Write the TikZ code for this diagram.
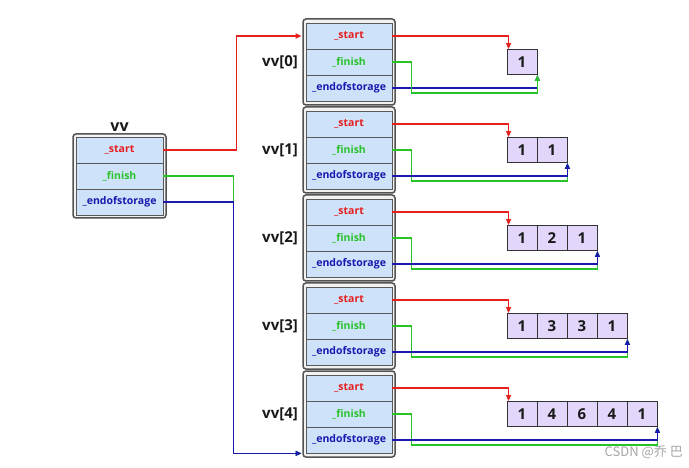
\documentclass[tikz,border=0pt]{standalone}
\usepackage{fontspec}
\setmainfont{Open Sans}
\newfontfamily\cjkfont{Noto Sans CJK SC}
\usetikzlibrary{arrows.meta}

\definecolor{cellblue}{RGB}{206,226,250}
\definecolor{elempurple}{RGB}{226,214,250}
\definecolor{startred}{RGB}{230,30,30}
\definecolor{finishgreen}{RGB}{40,195,40}
\definecolor{eosblue}{RGB}{25,25,175}

\tikzset{
  holder/.style={rectangle,rounded corners=3pt,draw=gray!65!black,line width=1.5pt,fill=gray!10,minimum width=92pt,minimum height=86pt},
  field/.style={rectangle,draw=gray!70!black,line width=0.8pt,fill=cellblue,minimum width=86pt,minimum height=26pt,inner sep=0pt,font=\fontsize{10.5}{12}\selectfont\bfseries},
  elem/.style={rectangle,draw=gray!40!black,line width=0.9pt,fill=elempurple,minimum width=30pt,minimum height=25pt,inner sep=0pt,text=gray!20!black,font=\fontsize{15}{16}\selectfont\bfseries},
  tag/.style={anchor=east,inner sep=0pt,text=gray!20!black,font=\fontsize{15}{16}\selectfont\bfseries},
  startline/.style={draw=startred,line width=1.3pt,-{Triangle[length=6pt,width=5pt]}},
  finishline/.style={draw=finishgreen,line width=1.3pt,-{Triangle[length=6pt,width=5pt]}},
  eosline/.style={draw=eosblue,line width=1.3pt,-{Triangle[length=6pt,width=5pt]}}
}

\begin{document}
\begin{tikzpicture}[x=1pt,y=-1pt]
  \useasboundingbox (0,0) rectangle (689,468);

  % Holders
  \node[holder,minimum width=93pt,minimum height=84pt] (vvbox) at (119.5,176) {};
  \node[holder] (v0box) at (349,62) {};
  \node[holder] (v1box) at (349,150) {};
  \node[holder] (v2box) at (349,238) {};
  \node[holder] (v3box) at (349,326) {};
  \node[holder] (v4box) at (349,414) {};

  % Labels
  \node[inner sep=0pt,text=gray!20!black,font=\fontsize{16}{17}\selectfont\bfseries] (vvtag) at (119.5,127) {vv};
  \node[tag] (v0tag) at (298,62) {vv[0]};
  \node[tag] (v1tag) at (298,150) {vv[1]};
  \node[tag] (v2tag) at (298,238) {vv[2]};
  \node[tag] (v3tag) at (298,326) {vv[3]};
  \node[tag] (v4tag) at (298,414) {vv[4]};

  % Fields
  \begin{scope}[every node/.style={field}]
    \node[minimum width=87pt,text=startred] (vvs) at (119.5,150) {\_start};
    \node[minimum width=87pt,text=finishgreen] (vvf) at (119.5,176) {\_finish};
    \node[minimum width=87pt,text=eosblue] (vve) at (119.5,202) {\_endofstorage};

    \node[text=startred] (v0s) at (349,36) {\_start};
    \node[text=finishgreen] (v0f) at (349,62) {\_finish};
    \node[text=eosblue] (v0e) at (349,88) {\_endofstorage};

    \node[text=startred] (v1s) at (349,124) {\_start};
    \node[text=finishgreen] (v1f) at (349,150) {\_finish};
    \node[text=eosblue] (v1e) at (349,176) {\_endofstorage};

    \node[text=startred] (v2s) at (349,212) {\_start};
    \node[text=finishgreen] (v2f) at (349,238) {\_finish};
    \node[text=eosblue] (v2e) at (349,264) {\_endofstorage};

    \node[text=startred] (v3s) at (349,300) {\_start};
    \node[text=finishgreen] (v3f) at (349,326) {\_finish};
    \node[text=eosblue] (v3e) at (349,352) {\_endofstorage};

    \node[text=startred] (v4s) at (349,388) {\_start};
    \node[text=finishgreen] (v4f) at (349,414) {\_finish};
    \node[text=eosblue] (v4e) at (349,440) {\_endofstorage};
  \end{scope}

  % Elements
  \begin{scope}[every node/.style={elem}]
    \node (a0-1) at (522,62) {1};

    \node (a1-1) at (522,150) {1};
    \node (a1-2) at (552,150) {1};

    \node (a2-1) at (522,238) {1};
    \node (a2-2) at (552,238) {2};
    \node (a2-3) at (582,238) {1};

    \node (a3-1) at (522,326) {1};
    \node (a3-2) at (552,326) {3};
    \node (a3-3) at (582,326) {3};
    \node (a3-4) at (612,326) {1};

    \node (a4-1) at (522,414) {1};
    \node (a4-2) at (552,414) {4};
    \node (a4-3) at (582,414) {6};
    \node (a4-4) at (612,414) {4};
    \node (a4-5) at (642,414) {1};
  \end{scope}

  % Pointers of vv
  \draw[startline,shorten >=4pt] (vvs.east) -- ++(73,0) |- (v0s.west);
  \draw[finishline,shorten >=4pt] (vvf.east) -- ++(70,0) |- (v4e.south west);
  \draw[eosline,shorten >=4pt] (vve.east) -- ++(70,0) |- (v4e.south west);

  % Pointers of vv[i]
  \draw[startline] (v0s.east) -| ([xshift=2pt]a0-1.north west);
  \draw[eosline] (v0e.east) -| (a0-1.south east);
  \draw[finishline] (v0f.east) -- ++(19,0) -- ++(0,31) -| (a0-1.south east);

  \draw[startline] (v1s.east) -| ([xshift=2pt]a1-1.north west);
  \draw[finishline] (v1f.east) -- ++(19,0) -- ++(0,31) -| (a1-2.south east);
  \draw[eosline] (v1e.east) -| (a1-2.south east);

  \draw[startline] (v2s.east) -| ([xshift=2pt]a2-1.north west);
  \draw[finishline] (v2f.east) -- ++(19,0) -- ++(0,31) -| (a2-3.south east);
  \draw[eosline] (v2e.east) -| (a2-3.south east);

  \draw[startline] (v3s.east) -| ([xshift=2pt]a3-1.north west);
  \draw[finishline] (v3f.east) -- ++(19,0) -- ++(0,31) -| (a3-4.south east);
  \draw[eosline] (v3e.east) -| (a3-4.south east);

  \draw[startline] (v4s.east) -| ([xshift=2pt]a4-1.north west);
  \draw[finishline] (v4f.east) -- ++(19,0) -- ++(0,31) -| (a4-5.south east);
  \draw[eosline] (v4e.east) -| (a4-5.south east);

  % Watermark
  \node[anchor=east,inner sep=0pt,text=gray!70,font=\cjkfont\fontsize{13}{14}\selectfont] (mark) at (683,452) {CSDN @乔 巴};
\end{tikzpicture}
\end{document}
